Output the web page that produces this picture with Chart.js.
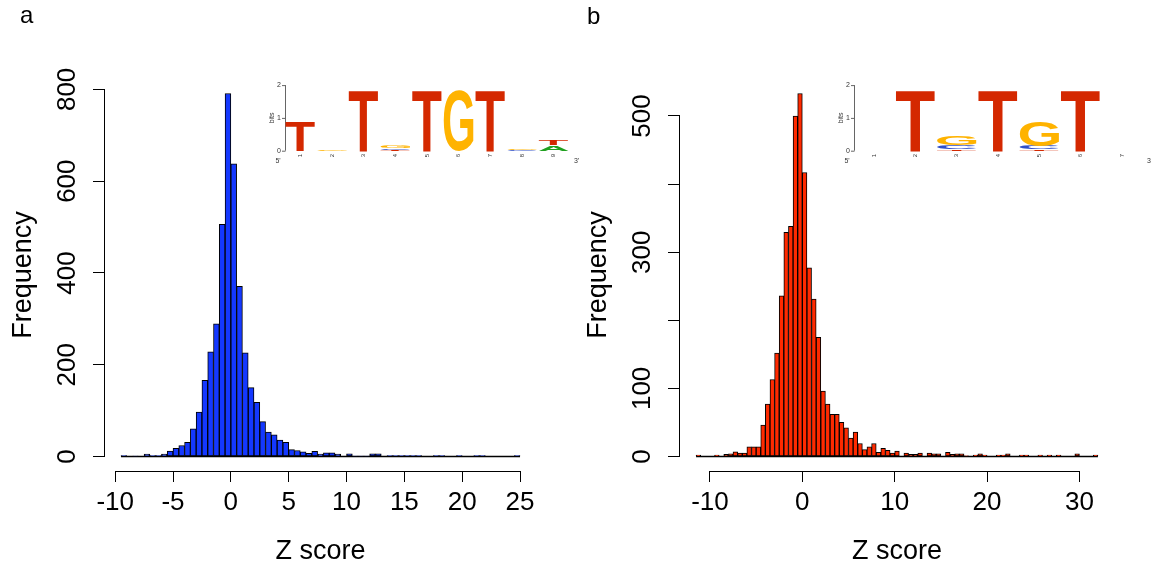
<!DOCTYPE html>
<html>
<head>
<meta charset="utf-8">
<title>Z score histograms</title>
<script src="https://cdn.jsdelivr.net/npm/chart.js@4.4.1/dist/chart.umd.min.js"></script>
<style>
  body { margin: 0; background: #fff; }
  #wrap { position: relative; width: 1151px; height: 565px; font-family: 'Liberation Sans', Arial, sans-serif; }
  .panel { position: absolute; top: 0; }
  .tag { position: absolute; font-size: 24px; line-height: 24px; color: #000; }
</style>
</head>
<body>
<div id="wrap">
  <canvas id="histA" class="panel" width="595" height="565" style="left:0"></canvas>
  <canvas id="histB" class="panel" width="576" height="565" style="left:575px"></canvas>
  <div class="tag" style="left:20px;top:3px">a</div>
  <div class="tag" style="left:587px;top:4px">b</div>
</div>
<script>
// histogram bins: width 0.5, counts listed from the first break upwards
var binWidth = 0.5;

var aFirstBreak = -9.5;
var aCounts = [2, 0, 1, 0, 5, 2, 2, 5, 12, 18,
  24, 31, 60, 97, 166, 228, 289, 506, 791, 638,
  371, 226, 150, 118, 76, 53, 47, 36, 31, 15,
  13, 10, 7, 11, 5, 8, 8, 5, 0, 6,
  1, 1, 1, 6, 6, 0, 2, 2, 2, 2,
  2, 2, 0, 0, 2, 2, 0, 0, 2, 0,
  0, 2, 2, 0, 0, 0, 0, 0, 2];
var aXTicks = [-10, -5, 0, 5, 10, 15, 20, 25];
var aYTicks = [0, 200, 400, 600, 800];
var aYLabels = [0, 200, 400, 600, 800];

var bFirstBreak = -11.5;
var bCounts = [2, 0, 0, 0, 2, 0, 3, 4, 7, 5,
  5, 14, 14, 14, 46, 77, 113, 152, 236, 329,
  338, 500, 533, 417, 277, 231, 175, 96, 77, 62,
  62, 50, 42, 27, 36, 19, 10, 14, 19, 6,
  12, 9, 5, 8, 0, 5, 3, 3, 5, 0,
  5, 4, 4, 0, 6, 3, 4, 4, 1, 0,
  2, 4, 2, 0, 0, 2, 2, 4, 0, 0,
  2, 2, 0, 0, 2, 0, 2, 0, 2, 0,
  0, 0, 4, 0, 0, 0, 2];
var bXTicks = [-10, 0, 10, 20, 30];
var bYTicks = [0, 100, 200, 300, 400, 500];
var bYLabels = [0, 100, 300, 500];

// motif logos: one stack per position, letters bottom to top with height in bits
var aLogo = [
  [['T', 0.92]],
  [['G', 0.05]],
  [['T', 1.85]],
  [['T', 0.03], ['C', 0.05], ['G', 0.08]],
  [['T', 1.85]],
  [['G', 1.85]],
  [['T', 1.85]],
  [['C', 0.03], ['G', 0.03]],
  [['A', 0.17], ['T', 0.17]]
];
var bLogo = [
  [],
  [['T', 1.85]],
  [['T', 0.04], ['C', 0.13], ['G', 0.28]],
  [['T', 1.85]],
  [['T', 0.04], ['C', 0.1], ['G', 0.75]],
  [['T', 1.85]],
  []
];
var baseColors = { A: '#1fa01f', C: '#3050c8', G: '#ffb300', T: '#d42800' };

var FONT = "'Liberation Sans', Arial, sans-serif";
Chart.defaults.font.family = FONT;
Chart.defaults.color = '#000';

// R style axes: the axis line only runs from the first to the last tick
var axisLines = {
  id: 'axisLines',
  afterDraw: function (chart) {
    var ctx = chart.ctx, area = chart.chartArea;
    var x = chart.scales.x, y = chart.scales.y;
    var xt = x.ticks, yt = y.ticks;
    ctx.save();
    ctx.strokeStyle = '#000';
    ctx.lineWidth = 1;
    ctx.beginPath();
    ctx.moveTo(x.getPixelForValue(xt[0].value), area.bottom + 0.5);
    ctx.lineTo(x.getPixelForValue(xt[xt.length - 1].value), area.bottom + 0.5);
    ctx.moveTo(area.left - 0.5, y.getPixelForValue(yt[0].value));
    ctx.lineTo(area.left - 0.5, y.getPixelForValue(yt[yt.length - 1].value));
    ctx.stroke();
    ctx.restore();
  }
};

function drawLetter(ctx, letter, left, bottom, w, h) {
  if (h <= 0) return;
  ctx.save();
  ctx.font = 'bold 100px ' + FONT;
  ctx.textAlign = 'left';
  ctx.textBaseline = 'alphabetic';
  var m = ctx.measureText(letter);
  var inkW = m.actualBoundingBoxLeft + m.actualBoundingBoxRight;
  var inkH = m.actualBoundingBoxAscent + m.actualBoundingBoxDescent;
  ctx.translate(left, bottom);
  ctx.scale(w / inkW, h / inkH);
  ctx.fillStyle = baseColors[letter];
  ctx.fillText(letter, m.actualBoundingBoxLeft, -m.actualBoundingBoxDescent);
  ctx.restore();
}

function logoPlugin(stacks, axisX, colLeft, colW) {
  var baseY = 150.7, bitPx = 32.8;
  return {
    id: 'seqLogo',
    afterDraw: function (chart) {
      var ctx = chart.ctx;
      ctx.save();
      // bits axis
      ctx.strokeStyle = '#666';
      ctx.lineWidth = 1;
      ctx.beginPath();
      ctx.moveTo(axisX + 0.5, baseY);
      ctx.lineTo(axisX + 0.5, baseY - 2 * bitPx);
      for (var b = 0; b <= 2; b++) {
        ctx.moveTo(axisX - 3, baseY - b * bitPx + 0.5);
        ctx.lineTo(axisX + 0.5, baseY - b * bitPx + 0.5);
      }
      ctx.stroke();
      ctx.fillStyle = '#333';
      ctx.font = '7px ' + FONT;
      ctx.textAlign = 'right';
      ctx.textBaseline = 'middle';
      for (b = 0; b <= 2; b++) ctx.fillText(String(b), axisX - 4, baseY - b * bitPx);
      ctx.save();
      ctx.translate(axisX - 13, baseY - bitPx);
      ctx.rotate(-Math.PI / 2);
      ctx.textAlign = 'center';
      ctx.fillText('bits', 0, 0);
      ctx.restore();
      ctx.textAlign = 'center';
      ctx.fillText("5'", axisX - 7, baseY + 10);
      ctx.fillText("3'", colLeft + stacks.length * colW + 7, baseY + 10);
      // letters and position numbers
      stacks.forEach(function (stack, i) {
        var left = colLeft + i * colW;
        var y = baseY;
        stack.forEach(function (s) {
          var h = s[1] * bitPx;
          drawLetter(ctx, s[0], left + 1, y, colW - 2, h);
          y -= h;
        });
        ctx.save();
        ctx.fillStyle = '#333';
        ctx.font = '6px ' + FONT;
        ctx.translate(left + colW / 2, baseY + 5);
        ctx.rotate(-Math.PI / 2);
        ctx.textAlign = 'center';
        ctx.textBaseline = 'middle';
        ctx.fillText(String(i + 1), 0, 0);
        ctx.restore();
      });
      ctx.restore();
    }
  };
}

function histogram(canvasId, firstBreak, counts, color, xTicks, yTicks, yLabels, padRight, logo) {
  var lastBreak = firstBreak + counts.length * binWidth;
  var bars = counts.map(function (c, i) {
    return { x: firstBreak + (i + 0.5) * binWidth, y: c };
  });
  var maxCount = Math.max.apply(null, counts);
  var xPad = (lastBreak - firstBreak) * 0.04;
  var yPad = maxCount * 0.04;
  return new Chart(document.getElementById(canvasId), {
    type: 'bar',
    data: {
      datasets: [{
        data: bars,
        backgroundColor: color,
        borderColor: '#000',
        borderWidth: 1,
        borderSkipped: false,
        barPercentage: 1,
        categoryPercentage: 1
      }, {
        // empty bins are drawn as a flat line along zero
        type: 'line',
        data: [{ x: firstBreak, y: 0 }, { x: lastBreak, y: 0 }],
        borderColor: '#000',
        borderWidth: 1.5,
        pointRadius: 0
      }]
    },
    options: {
      responsive: false,
      animation: false,
      layout: { padding: { top: 79, right: padRight, bottom: 0, left: 0 } },
      plugins: { legend: { display: false }, tooltip: { enabled: false } },
      scales: {
        x: {
          type: 'linear',
          offset: false,
          min: firstBreak - xPad,
          max: lastBreak + xPad,
          afterBuildTicks: function (s) { s.ticks = xTicks.map(function (v) { return { value: v }; }); },
          afterFit: function (s) { s.height = 94; },
          border: { display: false },
          grid: { offset: false, drawOnChartArea: false, drawTicks: true, tickLength: 11, color: '#000' },
          ticks: { autoSkip: false, maxRotation: 0, padding: 5, font: { size: 26 }, color: '#000' },
          title: { display: true, text: 'Z score', font: { size: 27, lineHeight: 1 }, color: '#000', padding: { top: 0, bottom: 0 } }
        },
        y: {
          min: -yPad,
          max: maxCount + yPad,
          afterBuildTicks: function (s) { s.ticks = yTicks.map(function (v) { return { value: v }; }); },
          afterFit: function (s) { s.width = 105; },
          border: { display: false },
          grid: { drawOnChartArea: false, drawTicks: true, tickLength: 12, color: '#000' },
          ticks: {
            autoSkip: false, minRotation: 90, maxRotation: 90, crossAlign: 'center', padding: 3,
            font: { size: 26 }, color: '#000',
            callback: function (v) { return yLabels.indexOf(v) >= 0 ? String(v) : ''; }
          },
          title: { display: true, text: 'Frequency', font: { size: 27, lineHeight: 1 }, color: '#000', padding: { top: 10, bottom: 0 } }
        }
      }
    },
    plugins: [axisLines, logo]
  });
}

histogram('histA', aFirstBreak, aCounts, '#1438ff', aXTicks, aYTicks, aYLabels, 59,
  logoPlugin(aLogo, 285, 284.5, 31.67));
histogram('histB', bFirstBreak, bCounts, '#ff2a00', bXTicks, bYTicks, bYLabels, 37,
  logoPlugin(bLogo, 279, 278.5, 41.3));
</script>
</body>
</html>
